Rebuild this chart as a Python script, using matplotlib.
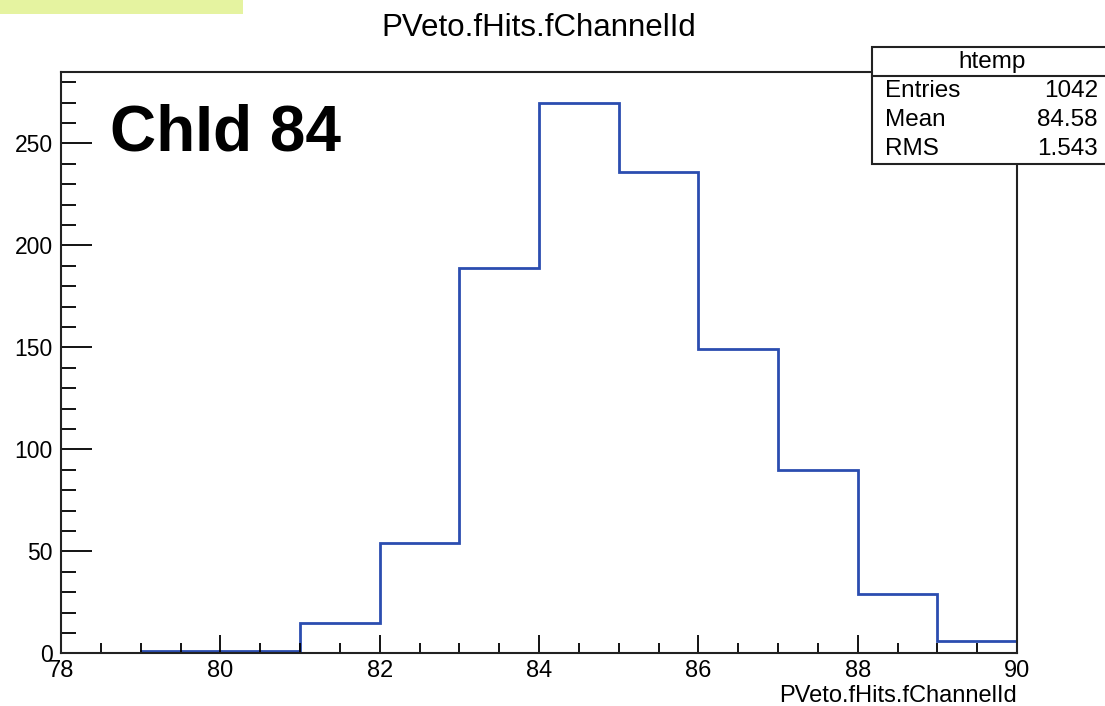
import matplotlib
matplotlib.use("Agg")
from matplotlib import pyplot as plt
from matplotlib.patches import Rectangle
from matplotlib.ticker import MultipleLocator

plt.rcParams['font.family'] = ['Liberation Sans', 'DejaVu Sans']

# channel id histogram, one bin per channel
bin_edges = [79, 80, 81, 82, 83, 84, 85, 86, 87, 88, 89, 90]
counts = [1, 1, 15, 54, 189, 270, 236, 149, 90, 29, 6]

hist_name = "htemp"
var_name = "PVeto.fHits.fChannelId"
stats_labels = ["Entries", "Mean", "RMS"]
stats_values = ["1042", "84.58", "1.543"]
tag = "ChId 84"

fig = plt.figure(figsize=(11.05, 7.06), dpi=100)
ax = fig.add_axes([0.0552, 0.0745, 0.8652, 0.8235])

ax.stairs(counts, bin_edges, color='#2b4db0', linewidth=2)

ax.set_xlim(78, 90)
ax.set_ylim(0, 285)
ax.xaxis.set_major_locator(MultipleLocator(2))
ax.xaxis.set_minor_locator(MultipleLocator(0.5))
ax.yaxis.set_major_locator(MultipleLocator(50))
ax.yaxis.set_minor_locator(MultipleLocator(10))

# ROOT-like axes: ticks inside, only on bottom and left
ax.tick_params(axis='x', which='major', direction='in', length=13, width=1.3,
               labelsize=17, pad=5, top=False)
ax.tick_params(axis='x', which='minor', direction='in', length=7.5, width=1.3, top=False)
ax.tick_params(axis='y', which='major', direction='in', length=22, width=1.3,
               labelsize=16.5, pad=6, right=False)
ax.tick_params(axis='y', which='minor', direction='in', length=11, width=1.3, right=False)
for side in ax.spines.values():
    side.set_linewidth(1.5)
    side.set_color('#222222')

ax.set_title(var_name, fontsize=22.5, pad=26)
ax.set_xlabel(var_name, fontsize=17, loc='right', labelpad=2)

ax.text(0.051, 0.894, tag, transform=ax.transAxes, fontsize=46,
        fontweight='bold', va='center', ha='left')

# stats box in the top right corner
box_l, box_r = 872 / 1105, 1112 / 1105
box_t, box_b = 1 - 47 / 706, 1 - 164 / 706
head_y = 1 - 76 / 706
fig.patches.append(Rectangle((box_l, box_b), box_r - box_l, box_t - box_b,
                             transform=fig.transFigure, facecolor='white',
                             edgecolor='#222222', linewidth=1.5, zorder=5))
fig.lines.append(plt.Line2D([box_l, box_r], [head_y, head_y], transform=fig.transFigure,
                            color='#222222', linewidth=1.5, zorder=6))
fig.text((box_l + box_r) / 2, 1 - 62 / 706, hist_name, fontsize=17.5,
         ha='center', va='center', zorder=7)
row_y = [91, 120, 149]
for lab, val, yy in zip(stats_labels, stats_values, row_y):
    fig.text(885 / 1105, 1 - yy / 706, lab, fontsize=17.5, ha='left', va='center', zorder=7)
    fig.text(1098 / 1105, 1 - yy / 706, val, fontsize=17.5, ha='right', va='center', zorder=7)

# highlight strip in the top left corner
fig.patches.append(Rectangle((0, 1 - 14 / 706), 243 / 1105, 14 / 706,
                             transform=fig.transFigure, facecolor='#e5f3a0',
                             edgecolor='none', zorder=1))

plt.savefig('out.png', dpi=100)
